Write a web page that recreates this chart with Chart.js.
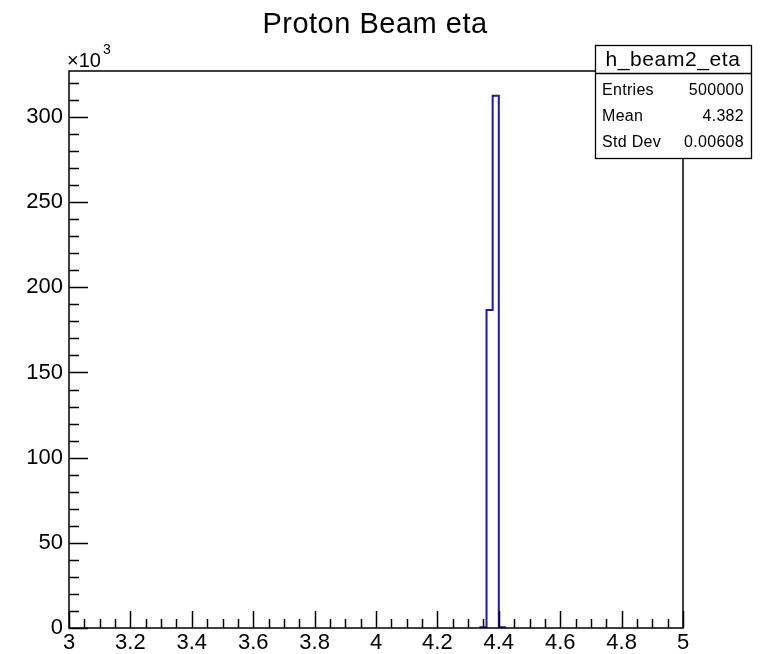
<!DOCTYPE html>
<html>
<head>
<meta charset="utf-8">
<script src="https://cdn.jsdelivr.net/npm/chart.js@4"></script>
<style>
  html, body { margin: 0; padding: 0; background: #fff; }
  #wrap { width: 766px; height: 654px; }
</style>
</head>
<body>
<div id="wrap"><canvas id="etaChart" width="766" height="654"></canvas></div>
<script>
// histogram bins (low edges), width 0.02
const binLow = [4.34, 4.36, 4.38, 4.40];
const binWidth = 0.02;
const counts = [400, 186700, 312400, 500];

const xTicks = [3, 3.2, 3.4, 3.6, 3.8, 4, 4.2, 4.4, 4.6, 4.8, 5];
const yTicks = [0, 50000, 100000, 150000, 200000, 250000, 300000];
const statNames = ['Entries', 'Mean', 'Std Dev'];
const statValues = ['500000', '4.382', '0.00608'];

const FONT = '"Liberation Sans", Arial, Helvetica, sans-serif';

// outline of the histogram as step points (value holds until next edge)
const steps = [{ x: binLow[0], y: 0 }];
binLow.forEach((lo, i) => steps.push({ x: lo, y: counts[i] }));
steps.push({ x: binLow[binLow.length - 1] + binWidth, y: 0 });

const rootStyle = {
  id: 'rootStyle',
  afterDraw(chart) {
    const c = chart.ctx;
    const a = chart.chartArea;
    const xs = chart.scales.x, ys = chart.scales.y;
    c.save();
    c.strokeStyle = '#000';
    c.lineWidth = 1.5;
    c.strokeRect(a.left, a.top, a.right - a.left, a.bottom - a.top);

    // inward ticks on y axis
    for (let v = 0; v <= ys.max; v += 10000) {
      const py = Math.round(ys.getPixelForValue(v)) + 0.5;
      const len = v % 50000 === 0 ? 19 : 10;
      c.beginPath(); c.moveTo(a.left, py); c.lineTo(a.left + len, py); c.stroke();
    }
    // inward ticks on x axis
    for (let k = 0; k <= 40; k++) {
      const v = 3 + k * 0.05;
      const px = Math.round(xs.getPixelForValue(v)) + 0.5;
      const len = k % 4 === 0 ? 17 : 9;
      c.beginPath(); c.moveTo(px, a.bottom); c.lineTo(px, a.bottom - len); c.stroke();
    }

    // title and exponent
    c.fillStyle = '#000';
    c.textBaseline = 'middle';
    c.font = '29px ' + FONT;
    c.letterSpacing = '0.5px';
    c.textAlign = 'center';
    c.fillText('Proton Beam eta', 375, 25);
    c.letterSpacing = '0px';
    c.font = '20px ' + FONT;
    c.textAlign = 'left';
    c.fillText('\u00d710', 67, 61);
    c.font = '14px ' + FONT;
    c.fillText('3', 103, 50);

    // stats box
    const bx = 595, by = 45, bw = 156, bh = 113;
    c.fillStyle = '#fff';
    c.fillRect(bx, by, bw, bh);
    c.lineWidth = 1.3;
    c.strokeRect(bx + 0.5, by + 0.5, bw, bh);
    c.beginPath(); c.moveTo(bx, 73.5); c.lineTo(bx + bw, 73.5); c.stroke();
    c.fillStyle = '#000';
    c.font = '21px ' + FONT;
    c.letterSpacing = '0.6px';
    c.textAlign = 'center';
    c.fillText('h_beam2_eta', bx + bw / 2, 60);
    c.font = '16px ' + FONT;
    c.letterSpacing = '0.3px';
    statNames.forEach((n, i) => {
      const ty = 91 + i * 26;
      c.textAlign = 'left';
      c.fillText(n, bx + 7, ty);
      c.textAlign = 'right';
      c.fillText(statValues[i], bx + bw - 7, ty);
    });
    c.restore();
  }
};

new Chart(document.getElementById('etaChart'), {
  type: 'line',
  data: {
    datasets: [{
      data: steps,
      stepped: 'before',
      borderColor: '#1c1c9c',
      borderWidth: 2,
      pointRadius: 0,
      fill: false
    }]
  },
  options: {
    responsive: false,
    animation: false,
    layout: { padding: { top: 71, right: 83, left: 0, bottom: 0 } },
    plugins: { legend: { display: false }, tooltip: { enabled: false } },
    scales: {
      x: {
        type: 'linear',
        min: 3, max: 5,
        afterFit(s) { s.height = 26; },
        afterBuildTicks(s) { s.ticks = xTicks.map(v => ({ value: v })); },
        grid: { display: false, drawTicks: false },
        border: { display: false },
        ticks: {
          padding: 2,
          maxRotation: 0,
          autoSkip: false,
          color: '#000',
          font: { family: FONT, size: 22 },
          callback: v => String(+v.toFixed(1))
        }
      },
      y: {
        min: 0, max: 327000,
        afterFit(s) { s.width = 69; },
        afterBuildTicks(s) { s.ticks = yTicks.map(v => ({ value: v })); },
        grid: { display: false, drawTicks: false },
        border: { display: false },
        ticks: {
          padding: 6,
          color: '#000',
          font: { family: FONT, size: 22 },
          callback: v => String(v / 1000)
        }
      }
    }
  },
  plugins: [rootStyle]
});
</script>
</body>
</html>
